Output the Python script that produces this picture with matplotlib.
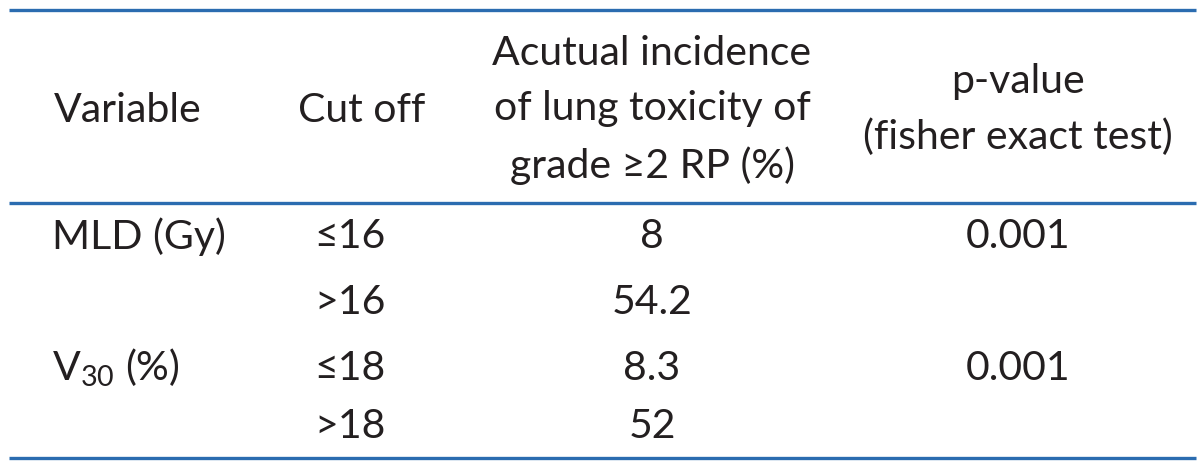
import matplotlib.pyplot as plt

# Table contents
headers = ['Variable', 'Cut off',
           'Acutual incidence\nof lung toxicity of\ngrade \u22652 RP (%)',
           'p-value\n(fisher exact test)']
variables = ['MLD (Gy)', '', r'V$_{\mathrm{30}}$ (%)', '']
cutoffs = ['\u226416', '>16', '\u226418', '>18']
incidence = ['8', '54.2', '8.3', '52']
pvalues = ['0.001', '', '0.001', '']

plt.rcParams['font.family'] = ['Lato', 'DejaVu Sans']
plt.rcParams['mathtext.fontset'] = 'custom'
plt.rcParams['mathtext.rm'] = 'Lato'

text_color = '#231f20'
line_color = '#2b6cb0'
fs = 29.5

fig = plt.figure(figsize=(12, 4.67), dpi=100)
ax = fig.add_axes([0, 0, 1, 1])
ax.set_xlim(0, 1200)
ax.set_ylim(467, 0)
ax.axis('off')

# rules
ax.hlines([10, 203, 458], 9, 1196, color=line_color, lw=2.4)

# header
col_x = [128, 362, 652, 1018]
for x, h in zip(col_x, headers):
    ax.text(x, 110, h, ha='center', va='center', fontsize=fs,
            color=text_color, linespacing=1.6)

# body rows
row_y = [237, 302, 368, 426]
for i, y in enumerate(row_y):
    ax.text(52, y, variables[i], ha='left', va='center', fontsize=fs, color=text_color)
    ax.text(350, y, cutoffs[i], ha='center', va='center', fontsize=fs, color=text_color)
    ax.text(652, y, incidence[i], ha='center', va='center', fontsize=fs, color=text_color)
    ax.text(1018, y, pvalues[i], ha='center', va='center', fontsize=fs, color=text_color)

fig.savefig('out.png', dpi=100, facecolor='white')
